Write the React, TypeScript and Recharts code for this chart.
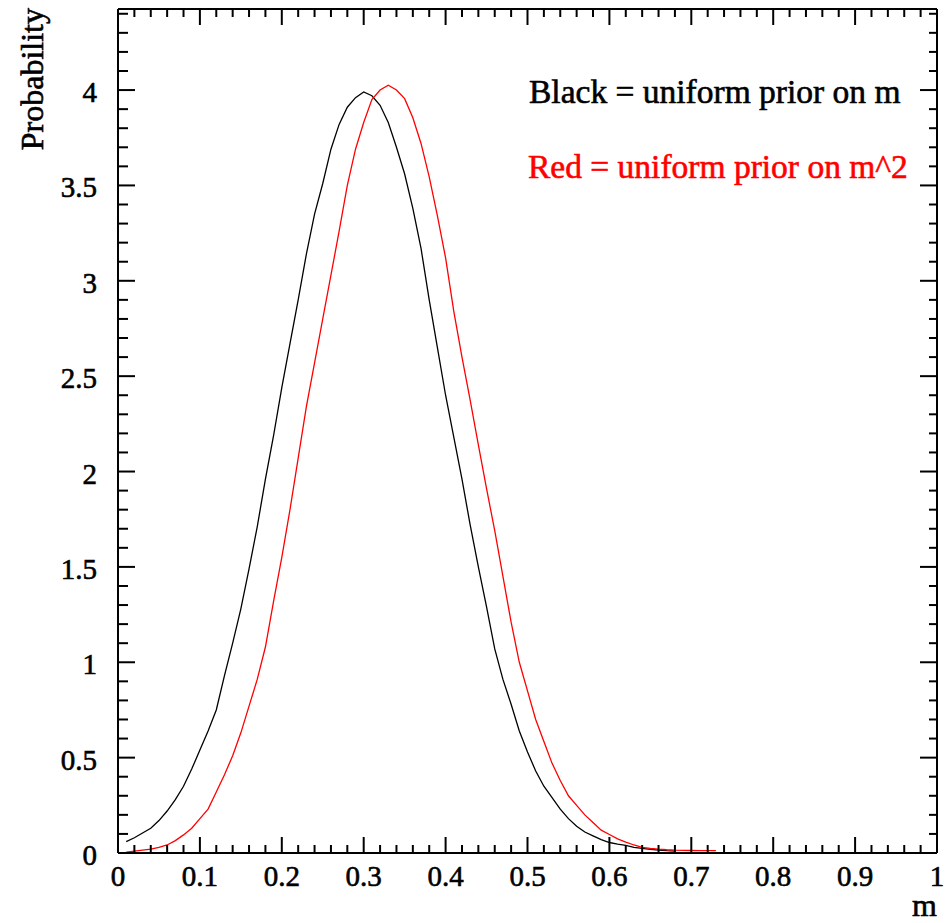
import React from "react";
import { LineChart, Line, XAxis, YAxis } from "recharts";

// m grid, 0.01 .. 0.73 in steps of 0.01
const M_VALUES: number[] = Array.from({ length: 73 }, (_, i) => (i + 1) / 100);

// uniform prior on m (black); ends at m = 0.68
const BLACK: number[] = [
  0.06, 0.08, 0.105, 0.13, 0.17, 0.22, 0.28, 0.35, 0.44, 0.54,
  0.64, 0.75, 0.93, 1.1, 1.28, 1.49, 1.71, 1.96, 2.19, 2.44,
  2.67, 2.9, 3.14, 3.35, 3.51, 3.69, 3.82, 3.91, 3.96, 3.99,
  3.97, 3.92, 3.83, 3.7, 3.56, 3.38, 3.17, 2.9, 2.65, 2.4,
  2.18, 1.96, 1.72, 1.5, 1.29, 1.07, 0.91, 0.78, 0.64, 0.53,
  0.43, 0.35, 0.29, 0.23, 0.18, 0.14, 0.11, 0.09, 0.07, 0.055,
  0.047, 0.04, 0.03, 0.024, 0.019, 0.015, 0.012, 0.01,
];

// uniform prior on m^2 (red), ends at m = 0.73
const RED: number[] = [
  0.005, 0.01, 0.015, 0.02, 0.03, 0.042, 0.065, 0.095, 0.13, 0.18,
  0.23, 0.32, 0.41, 0.51, 0.63, 0.77, 0.91, 1.08, 1.32, 1.55,
  1.8, 2.07, 2.34, 2.57, 2.8, 3.03, 3.26, 3.5, 3.69, 3.83,
  3.95, 4.0, 4.025, 4.0, 3.955, 3.855, 3.72, 3.545, 3.34, 3.12,
  2.84, 2.6, 2.375, 2.14, 1.91, 1.69, 1.45, 1.21, 1.0, 0.85,
  0.7, 0.585, 0.47, 0.38, 0.3, 0.25, 0.2, 0.16, 0.12, 0.097,
  0.074, 0.057, 0.042, 0.03, 0.024, 0.02, 0.017, 0.015, 0.014, 0.013,
  0.012, 0.012, 0.012,
];

const X_MAJOR = [0, 0.1, 0.2, 0.3, 0.4, 0.5, 0.6, 0.7, 0.8, 0.9, 1];
const X_LABELS = ["0", "0.1", "0.2", "0.3", "0.4", "0.5", "0.6", "0.7", "0.8", "0.9", "1"];
const Y_MAJOR = [0, 0.5, 1, 1.5, 2, 2.5, 3, 3.5, 4];
const Y_LABELS = ["0", "0.5", "1", "1.5", "2", "2.5", "3", "3.5", "4"];
const Y_MAX = 4.425;

const X_TICKS = Array.from({ length: 51 }, (_, i) => i / 50);
const Y_TICKS = Array.from({ length: 45 }, (_, i) => i / 10);

const FONT = '"Liberation Serif", "Times New Roman", serif';
// the original glyphs are a bit heavier than plain Liberation Serif
const heavy = (color: string) => ({ fill: color, stroke: color, strokeWidth: 0.6 });

const data = M_VALUES.map((m, i) => ({
  m,
  black: i < BLACK.length ? BLACK[i] : null,
  red: RED[i],
}));

const findIdx = (v: number, list: number[]) => list.findIndex((t) => Math.abs(t - v) < 1e-6);

const BottomTick = (props: any) => {
  const { x, y, payload } = props;
  const idx = findIdx(payload.value, X_MAJOR);
  const major = idx >= 0;
  return (
    <g>
      <line x1={x} y1={y} x2={x} y2={y - (major ? 16 : 8)} stroke="#000" strokeWidth={2} />
      {major && (
        <text x={x} y={y + 33} textAnchor="middle" fontFamily={FONT} fontSize={29} {...heavy("#000")}>
          {X_LABELS[idx]}
        </text>
      )}
    </g>
  );
};

const TopTick = (props: any) => {
  const { x, y, payload } = props;
  const major = findIdx(payload.value, X_MAJOR) >= 0;
  return <line x1={x} y1={y} x2={x} y2={y + (major ? 16 : 8)} stroke="#000" strokeWidth={2} />;
};

const LeftTick = (props: any) => {
  const { x, y, payload } = props;
  const idx = findIdx(payload.value, Y_MAJOR);
  const major = idx >= 0;
  return (
    <g>
      <line x1={x} y1={y} x2={x + (major ? 17 : 10)} y2={y} stroke="#000" strokeWidth={2} />
      {major && (
        <text x={x - 21} y={y + 12} textAnchor="end" fontFamily={FONT} fontSize={29} {...heavy("#000")}>
          {Y_LABELS[idx]}
        </text>
      )}
    </g>
  );
};

const RightTick = (props: any) => {
  const { x, y, payload } = props;
  const major = findIdx(payload.value, Y_MAJOR) >= 0;
  return <line x1={x} y1={y} x2={x - (major ? 17 : 8)} y2={y} stroke="#000" strokeWidth={2} />;
};

const axisLine = { stroke: "#000", strokeWidth: 2 };

export default function App() {
  return (
    <div style={{ position: "absolute", left: 0, top: 0, width: 952, height: 923, background: "#fff" }}>
      <LineChart width={952} height={923} data={data} margin={{ top: 8, right: 14, left: 0, bottom: 0 }}>
        <XAxis
          xAxisId="bottom"
          dataKey="m"
          type="number"
          domain={[0, 1]}
          ticks={X_TICKS}
          interval={0}
          height={70}
          tickSize={0}
          tickMargin={0}
          tickLine={false}
          axisLine={axisLine}
          tick={<BottomTick />}
          allowDataOverflow
        />
        <XAxis
          xAxisId="top"
          orientation="top"
          dataKey="m"
          type="number"
          domain={[0, 1]}
          ticks={X_TICKS}
          interval={0}
          height={1}
          tickSize={0}
          tickMargin={0}
          tickLine={false}
          axisLine={axisLine}
          tick={<TopTick />}
          allowDataOverflow
        />
        <YAxis
          yAxisId="left"
          type="number"
          domain={[0, Y_MAX]}
          ticks={Y_TICKS}
          interval={0}
          width={118}
          tickSize={0}
          tickMargin={0}
          tickLine={false}
          axisLine={axisLine}
          tick={<LeftTick />}
          allowDataOverflow
        />
        <YAxis
          yAxisId="right"
          orientation="right"
          type="number"
          domain={[0, Y_MAX]}
          ticks={Y_TICKS}
          interval={0}
          width={1}
          tickSize={0}
          tickMargin={0}
          tickLine={false}
          axisLine={axisLine}
          tick={<RightTick />}
          allowDataOverflow
        />
        <Line
          xAxisId="bottom"
          yAxisId="left"
          dataKey="black"
          type="linear"
          stroke="#000"
          strokeWidth={1.3}
          dot={false}
          isAnimationActive={false}
        />
        <Line
          xAxisId="top"
          yAxisId="right"
          dataKey="red"
          type="linear"
          stroke="#ff0000"
          strokeWidth={1.3}
          dot={false}
          isAnimationActive={false}
        />
      </LineChart>
      <svg
        width={952}
        height={923}
        style={{ position: "absolute", left: 0, top: 0, pointerEvents: "none" }}
      >
        <text
          transform="translate(43, 8) rotate(-90)"
          textAnchor="end"
          fontFamily={FONT}
          fontSize={32}
          {...heavy("#000")}
        >
          Probability
        </text>
        <text x={937} y={916} textAnchor="end" fontFamily={FONT} fontSize={32} {...heavy("#000")}>
          m
        </text>
        <text x={529} y={103} fontFamily={FONT} fontSize={33.5} {...heavy("#000")}>
          Black = uniform prior on m
        </text>
        <text x={528} y={178} fontFamily={FONT} fontSize={33.5} {...heavy("#ff0000")}>
          Red = uniform prior on m^2
        </text>
      </svg>
    </div>
  );
}
